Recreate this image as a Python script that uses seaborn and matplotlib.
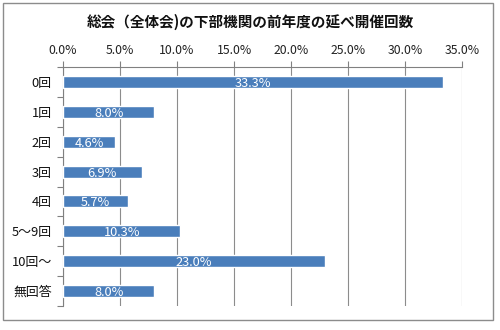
import matplotlib
matplotlib.use("Agg")
import matplotlib.pyplot as plt
import seaborn as sns
import pandas as pd
from matplotlib.patches import Rectangle
from matplotlib.ticker import FixedLocator

categories = ["0回", "1回", "2回", "3回", "4回", "5〜9回", "10回〜", "無回答"]
values = [33.3, 8.0, 4.6, 6.9, 5.7, 10.3, 23.0, 8.0]
xticks = [0, 5, 10, 15, 20, 25, 30, 35]
title = "総会（全体会)の下部機関の前年度の延べ開催回数"

sns.set_theme(style="white")
plt.rcParams["font.family"] = ["Noto Sans CJK JP", "DejaVu Sans"]

df = pd.DataFrame({"cat": categories, "val": values})

fig = plt.figure(figsize=(5.0, 3.3), dpi=100)
fig.patch.set_facecolor("white")
fig.patches.append(Rectangle((3/500, 1-320/330), 490/500, 317/330, transform=fig.transFigure,
                             fill=False, edgecolor="#8c8c8c", linewidth=1.0))
ax = fig.add_axes([63/500, 1-306/330, 399/500, 239/330])

sns.barplot(data=df, x="val", y="cat", orient="h", color="#4a7ebb", saturation=1,
            width=0.4, ax=ax, zorder=3)

ax.set_xlim(0, 35)
ax.set_ylim(len(categories) - 0.5, -0.5)
ax.xaxis.tick_top()
ax.set_xticks(xticks)
ax.set_xticklabels([f"{t:.1f}%" for t in xticks], fontsize=8.8, color="#222222")
ax.tick_params(axis="x", direction="out", length=4, width=0.8, color="#808080", pad=3)
ax.grid(axis="x", color="#8c8c8c", linewidth=0.8, zorder=0)
ax.set_axisbelow(True)

ax.set_yticks(range(len(categories)))
ax.set_yticklabels(categories, fontsize=9.3, color="#111111")
ax.tick_params(axis="y", which="major", length=0, pad=8)
ax.yaxis.set_minor_locator(FixedLocator([i + 0.5 for i in range(-1, len(categories))]))
ax.tick_params(axis="y", which="minor", length=4, width=0.8, color="#808080", left=True)

ax.set_xlabel("")
ax.set_ylabel("")
for side in ["right", "bottom"]:
    ax.spines[side].set_visible(False)
for side in ["top", "left"]:
    ax.spines[side].set_visible(True)
    ax.spines[side].set_color("#808080")
    ax.spines[side].set_linewidth(0.8)

for i, v in enumerate(values):
    ax.text(v / 2, i, f"{v:.1f}%", ha="center", va="center_baseline", color="white",
            fontsize=9.2, zorder=4)

fig.text(0.5, 1 - 22/330, title, ha="center", va="center", fontsize=10.5, fontweight="bold", color="#111111")

fig.savefig("out.png", dpi=100)
